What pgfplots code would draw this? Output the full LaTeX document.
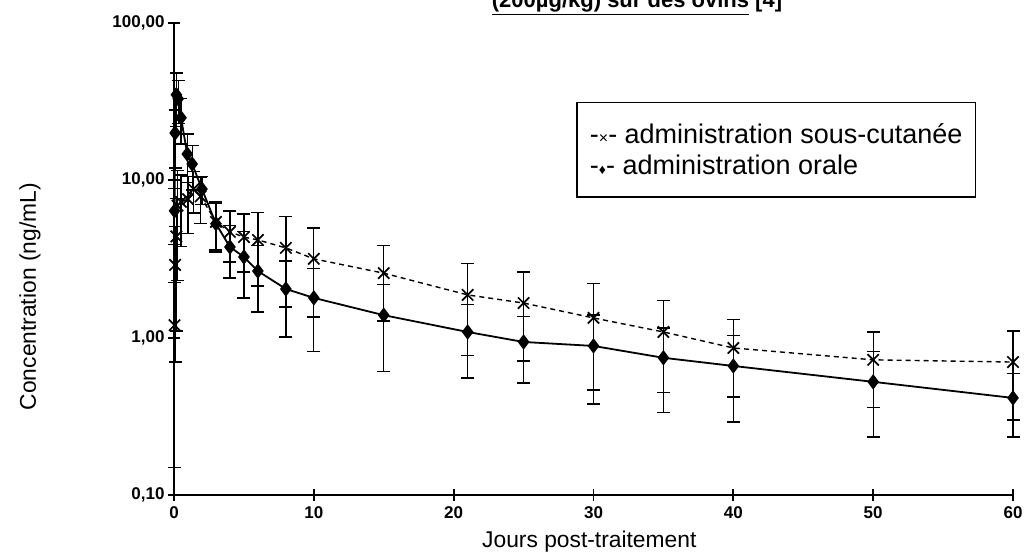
\documentclass[border=0pt]{standalone}
\usepackage{fontspec}
\setmainfont{Liberation Sans}
\usepackage{pgfplots}
\pgfplotsset{compat=1.18}
\usepackage{pgfplotstable}

% sous-cutanee: temps (jours), concentration (ng/mL), ecart-type
\pgfplotstableread{
t v sd
0.04 1.2 1.05
0.08 2.9 2.2
0.17 4.4 3.3
0.25 6.9 4.6
0.5 7.3 3.5
1 7.6 3.0
1.4 8.8 2.6
1.9 7.9 2.6
3 5.44 1.84
4 4.70 1.68
5 4.36 1.74
6 4.18 2.05
8 3.72 2.15
10 3.17 1.82
15 2.57 1.29
21 1.87 1.10
25 1.66 0.95
30 1.335 0.87
35 1.087 0.64
40 0.86 0.44
50 0.723 0.364
60 0.70 0.40
}\sctable

% orale
\pgfplotstableread{
t v sd
0.04 6.4 2.5
0.08 20 8
0.17 35 13
0.3 33 10
0.5 25 8
0.95 14.7 5
1.3 12.7 4
2 8.8 1.8
3 5.3 1.8
4 3.77 1.38
5 3.26 1.47
6 2.65 1.19
8 2.04 1.03
10 1.79 0.97
15 1.39 0.78
21 1.087 0.533
25 0.939 0.424
30 0.886 0.507
35 0.745 0.41
40 0.661 0.37
50 0.524 0.29
60 0.414 0.18
}\oraletable

\begin{document}
\begin{tikzpicture}
\useasboundingbox (-174pt,-59pt) rectangle (851pt,495pt);
\begin{axis}[
  at={(0pt,0pt)}, anchor=south west,
  scale only axis, width=839pt, height=472pt,
  xmin=0, xmax=60, ymode=log, ymin=0.1, ymax=100,
  clip=false,
  axis lines=left, axis line style={-, line width=2.4pt},
  tick align=center, major tick length=12pt,
  tick style={line width=1.8pt, black},
  yminorticks=false,
  xtick={0,10,20,30,40,50,60},
  xticklabels={0,10,20,30,40,50,60},
  ytick={0.1,1,10,100},
  yticklabels={{0,10},{1,00},{10,00},{100,00}},
  ticklabel style={font=\fontsize{17}{17}\selectfont\bfseries},
  xticklabel style={yshift=-2pt},
  xlabel={Jours post-traitement},
  ylabel={Concentration (ng/mL)},
  label style={font=\fontsize{22.8}{26}\selectfont},
  xlabel style={at={(axis description cs:0.495,-0.0996)}, anchor=center},
  ylabel style={at={(axis description cs:-0.1716,0.42)}, anchor=center},
  legend image code/.code={},
  legend cell align=left,
  legend style={at={(axis description cs:0.956,0.833)}, anchor=north east,
    draw=black, line width=1.3pt, font=\fontsize{27}{31}\selectfont,
    inner xsep=11pt, inner ysep=19pt, row sep=6pt},
]
\addplot[black, line width=1.4pt, dash pattern=on 5pt off 4pt,
  mark=x, mark size=8pt, mark options={solid, line width=1.7pt},
  error bars/.cd, y dir=both, y explicit,
  error bar style={solid, line width=1.3pt},
  error mark options={rotate=90, mark size=6.5pt, line width=1.4pt}]
  table[x=t, y=v, y error=sd] {\sctable};
\addplot[black, line width=1.8pt,
  mark=diamond*, mark size=6.3pt, mark options={solid},
  error bars/.cd, y dir=both, y explicit,
  error bar style={solid, line width=1.3pt},
  error mark options={rotate=90, mark size=6.5pt, line width=1.4pt}]
  table[x=t, y=v, y error=sd] {\oraletable};
\legend{-{\fontsize{16}{16}\selectfont ×}- administration sous-cutanée,
  -{\fontsize{14}{14}\selectfont ♦}- administration orale}
\end{axis}
\node[anchor=base, font=\fontsize{22}{22}\selectfont\bfseries] at (463pt,487pt)
  {\underline{(200µg/kg) sur des ovins} [4]};
\end{tikzpicture}
\end{document}
